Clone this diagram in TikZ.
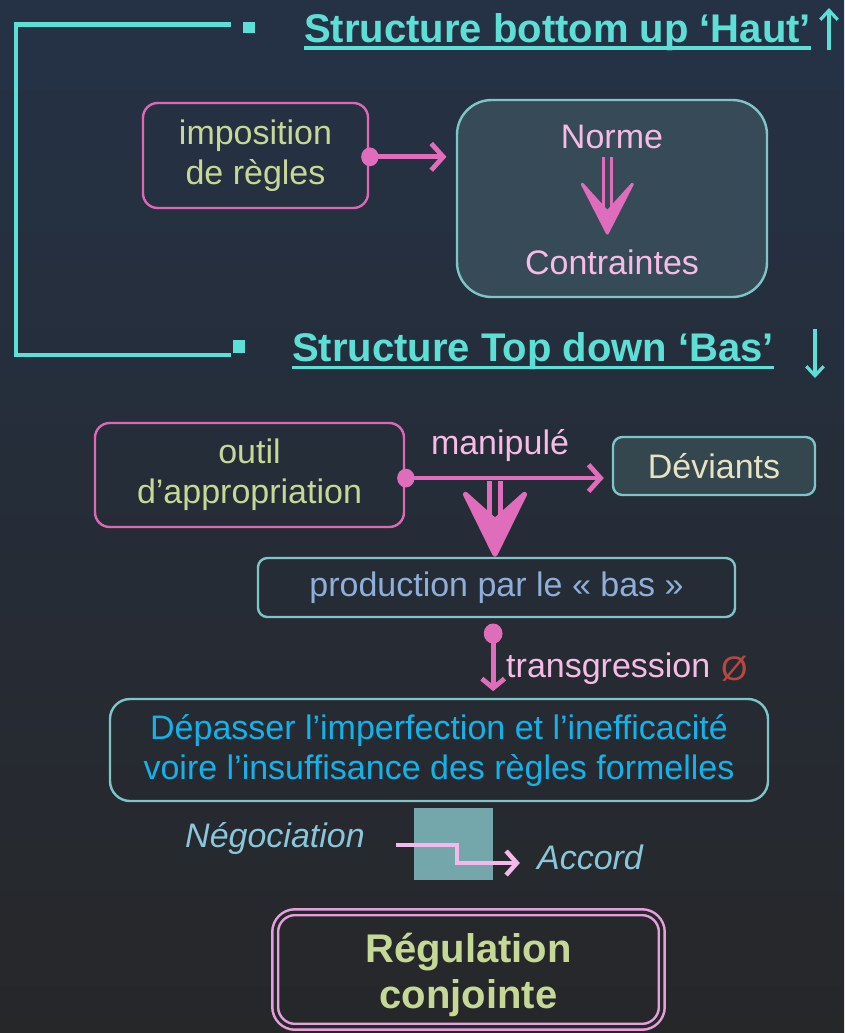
\documentclass[tikz,border=0pt]{standalone}
\usepackage{fontspec}
\setmainfont{Liberation Sans}
\usetikzlibrary{arrows.meta}
\usetikzlibrary{positioning}

\definecolor{bgtop}{HTML}{253246}
\definecolor{bgbot}{HTML}{262729}
\definecolor{bgmid}{HTML}{262D38}
\definecolor{cyanc}{HTML}{5CE0D6}
\definecolor{pinkc}{HTML}{E06CBC}
\definecolor{pinkline}{HTML}{DC69B4}
\definecolor{leaf}{HTML}{C6D896}
\definecolor{tealline}{HTML}{7FC4C6}
\definecolor{normfill}{HTML}{364A58}
\definecolor{devfill}{HTML}{34474F}
\definecolor{rose}{HTML}{F6BCE6}
\definecolor{cream}{HTML}{E8E1C4}
\definecolor{prodtext}{HTML}{8EAFDA}
\definecolor{skyc}{HTML}{14B2E8}
\definecolor{negtext}{HTML}{8AC6DA}
\definecolor{tealsq}{HTML}{74A7AC}
\definecolor{stepc}{HTML}{F3B9EA}
\definecolor{nullc}{HTML}{B8473F}
\definecolor{regline}{HTML}{E4A0DC}

\newcommand\bodyfont{\fontsize{25.5pt}{30pt}\selectfont}
\newcommand\headfont{\fontsize{30pt}{34pt}\selectfont\bfseries}

\begin{document}
\begin{tikzpicture}[x=0.75pt,y=-0.75pt]
			\tikzset{box/.style = {draw=pinkline, line width=1.8pt, rounded corners=11pt,
					align=center, text=leaf, font=\bodyfont}}
			\tikzset{tbox/.style = {draw=tealline, line width=1.8pt, rounded corners=7pt,
					align=center, font=\bodyfont}}
			\tikzset{word/.style = {inner sep=0pt, font=\bodyfont}}
			\tikzset{head/.style = {inner sep=0pt, text=cyanc, font=\headfont}}
			\tikzset{edge/.style = {draw=pinkc, line width=3.6pt, shorten <=-6pt,
					{Circle[length=13pt,width=14pt]}-{Straight Barb[length=9pt,width=20pt,line width=3.6pt]}}}
			\tikzset{dblarrow/.style = {draw=pinkc, line width=2.2pt, double distance=4pt}}
			\tikzset{thinarrow/.style = {draw=cyanc, line width=2.4pt,
					-{Straight Barb[length=7pt,width=13pt,line width=2.4pt]}}}
			
			% background
			\shade[top color=bgtop, bottom color=bgbot] (0,0) rectangle (844,1033);
			\useasboundingbox (0,0) rectangle (844,1033);
			
			% bracket and bullets
			\draw[cyanc, line width=3.4pt] (231,24.5) -- (16,24.5) -- (16,355) -- (231,355);
			\fill[cyanc] (243,22) rectangle (255,33);
			\fill[cyanc] (233,340) rectangle (245,353);
			
			% headings
			\node[head, anchor=base west] (haut) at (304,42) {Structure bottom up ‘Haut’};
			\node[head, anchor=base west] (bas) at (292,361) {Structure Top down ‘Bas’};
			\draw[cyanc, line width=2.4pt] ([yshift=-4.5pt]haut.base west) -- ([yshift=-4.5pt]haut.base east);
			\draw[cyanc, line width=2.4pt] ([yshift=-4.8pt]bas.base west) -- ([yshift=-4.8pt]bas.base east);
			\coordinate (upa) at (829,50);
			\coordinate (upb) at (829,8);
			\coordinate (dna) at (815,329);
			\coordinate (dnb) at (815,378);
			\draw[thinarrow] (upa) -- (upb);
			\draw[thinarrow] (dna) -- (dnb);
			
			% vertices
			\node[box, minimum width=168.75pt, minimum height=78.75pt] (rules) at (255.5,155.5) {imposition\\de règles};
			\node[tbox, fill=normfill, rounded corners=26pt, minimum width=232.5pt, minimum height=147.75pt] (norm) at (612,198.5) {};
			\node[word, text=rose] (norme) at (612,137) {Norme};
			\node[word, text=rose] (contr) at (612,262) {Contraintes};
			
			\node[box, minimum width=231.75pt, minimum height=78pt] (tool) at (249.5,475) {outil\\d’appropriation};
			\node[tbox, fill=devfill, text=cream, minimum width=151.5pt, minimum height=43.5pt] (dev) at (714,466) {Déviants};
			\node[tbox, text=prodtext, minimum width=357.75pt, minimum height=44.25pt] (prod) at (496.5,587.5) {production par le « bas »};
			\node[tbox, text=skyc, rounded corners=15pt, minimum width=493.5pt, minimum height=76.5pt] (beyond) at (439,750) {Dépasser l’imperfection et l’inefficacité\\voire l’insuffisance des règles formelles};
			
			\node[word, text=negtext, font=\bodyfont\itshape] (nego) at (275,838) {Négociation};
			\node[word, text=negtext, font=\bodyfont\itshape] (accord) at (590,857) {Accord};
			\node[draw=regline, double=bgbot, line width=1.9pt, double distance=2.4pt, rounded corners=15pt,
				minimum width=290pt, minimum height=86pt] (reg) at (468.5,969.5) {};
			\node[align=center, text=leaf, font=\headfont] (regtxt) at (468.5,975) {Régulation\\[1pt]conjointe};
			
			%edges
			\draw[edge, shorten >=7pt] ([yshift=-1pt]rules.east) -- ([yshift=-1pt]rules.east -| norm.west);
			\draw[dblarrow, double=normfill, -{Stealth[length=46pt,width=47pt,inset=26pt,round]}, shorten <=6pt, shorten >=11pt]
				([xshift=-3.5pt]norme.south) -- ([xshift=-3.5pt]contr.north);
			
			\coordinate (fork) at (495,481);
			\draw[dblarrow, line width=3.8pt, double=bgmid, double distance=4.4pt,
				-{Stealth[length=57pt,width=56pt,inset=25pt,round]}] (fork) -- (fork |- prod.north);
			\draw[edge, shorten >=6pt] ([yshift=-2.3pt]tool.east) -- ([yshift=-2.3pt]tool.east -| dev.west);
			\node[word, text=rose] (manip) at (500,446) {manipulé};
			
			\draw[edge, {Circle[length=15pt,width=14pt]}-{Straight Barb[length=7pt,width=17pt,line width=3.6pt]},
				shorten <=4pt, shorten >=5pt] ([xshift=-2.5pt]prod.south) -- ([xshift=-2.5pt]prod.south |- beyond.north)
				node[midway, right=8pt, word, text=rose, yshift=-8pt] (trans) {transgression};
			\node[word, text=nullc, right=6pt of trans] (null) {Ø};
			
			\fill[tealsq] (414,808) rectangle (493,880);
			\draw[stepc, line width=3.4pt, -{Straight Barb[length=8pt,width=18pt,line width=3.4pt]}]
				([shift={(31,7)}]nego.east) -- ++(61,0) -- ++(0,18) -- ([shift={(-17,6)}]accord.west);
			
\end{tikzpicture}
\end{document}
